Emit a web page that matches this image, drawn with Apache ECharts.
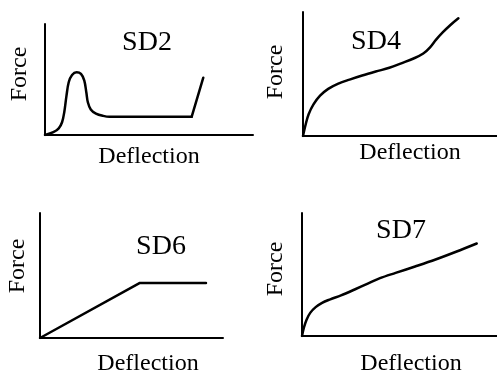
<!DOCTYPE html>
<html>
<head>
<meta charset="utf-8">
<script src="https://cdn.jsdelivr.net/npm/echarts@6/dist/echarts.min.js"></script>
<style>
  html, body { margin: 0; padding: 0; background: #fff; }
  #chart { width: 497px; height: 377px; }
</style>
</head>
<body>
<div id="chart"></div>
<script>
// Force–deflection characteristics of four shock-damper types (normalised units, 0–100)
const panelTitles = ['SD2', 'SD4', 'SD6', 'SD7'];
const xAxisName = 'Deflection';
const yAxisName = 'Force';

// [deflection, force]
const sd2 = [
  [0, 0], [4.0, 2.5], [6.6, 6.0], [8.2, 11.5], [9.3, 21.0], [10.3, 35.0],
  [11.4, 47.5], [13.0, 54.0], [15.2, 56.5], [17.3, 55.0], [18.9, 49.0],
  [19.9, 38.0], [20.6, 29.5], [22.0, 23.0], [24.5, 19.3], [28.0, 17.2],
  [31.0, 16.4], [70.5, 16.4], [76.1, 51.6]
];
const sd2Curve = sd2.slice(0, 18);   // smooth hump up to the end of the plateau
const sd2Ramp = sd2.slice(17);       // straight final ramp

const sd4 = [
  [0, 0], [1.4, 9.5], [2.9, 17.5], [5.4, 25.5], [8.8, 32.5], [13.0, 38.0],
  [18.2, 42.2], [24.0, 45.5], [30.5, 48.8], [37.5, 52.0], [44.5, 55.0],
  [51.0, 58.8], [57.0, 62.5], [62.0, 66.5], [65.5, 71.5], [68.5, 77.5],
  [72.0, 83.5], [76.0, 89.5], [80.1, 94.9]
];
const sd6 = [
  [0, 0], [54.6, 44.1], [90.7, 44.1]
];
const sd7 = [
  [0, 0], [1.0, 7.0], [2.4, 13.5], [4.3, 19.0], [7.0, 23.5], [10.3, 27.0],
  [14.5, 29.8], [20.0, 33.0], [27.0, 37.8], [34.0, 42.8], [40.0, 47.0],
  [48.0, 51.3], [58.0, 56.5], [68.5, 62.2], [79.0, 68.5], [89.6, 75.2]
];

const serif = "'Liberation Serif', 'Times New Roman', Times, serif";

// grid boxes and label placement for each panel
const panels = [
  { grid: { left: 45, top: 24, width: 208, height: 111 },
    title: [147, 43], xGap: 10, xPad: 0, yGap: 13, yPad: 11 },
  { grid: { left: 303, top: 12, width: 194, height: 124 },
    title: [376, 42], xGap: 5, xPad: 20, yGap: 15, yPad: 4 },
  { grid: { left: 40, top: 213, width: 183, height: 127 },
    title: [161, 247], xGap: 14, xPad: 33, yGap: 10, yPad: 19 },
  { grid: { left: 302, top: 213, width: 195, height: 125 },
    title: [401, 231], xGap: 16, xPad: 23, yGap: 14, yPad: 11 }
];

const curves = [
  { panel: 0, data: sd2Curve, smooth: 0.35 },
  { panel: 0, data: sd2Ramp, smooth: false },
  { panel: 1, data: sd4, smooth: 0.35 },
  { panel: 2, data: sd6, smooth: false },
  { panel: 3, data: sd7, smooth: 0.35 }
];

const axisBase = {
  type: 'value', min: 0, max: 100,
  axisLine: { show: true, lineStyle: { color: '#000', width: 2 } },
  axisTick: { show: false },
  axisLabel: { show: false },
  splitLine: { show: false }
};

const option = {
  backgroundColor: '#fff',
  animation: false,
  title: panels.map((p, i) => ({
    text: panelTitles[i],
    left: p.title[0], top: p.title[1],
    textAlign: 'center', textVerticalAlign: 'middle', padding: 0,
    textStyle: { fontFamily: serif, fontSize: 28, fontWeight: 'normal', color: '#000' }
  })),
  grid: panels.map(p => Object.assign({ containLabel: false }, p.grid)),
  xAxis: panels.map((p, i) => Object.assign({}, axisBase, {
    gridIndex: i,
    name: xAxisName, nameLocation: 'middle', nameGap: p.xGap,
    nameTextStyle: { fontFamily: serif, fontSize: 24, color: '#000', padding: [0, 0, 0, p.xPad] }
  })),
  yAxis: panels.map((p, i) => Object.assign({}, axisBase, {
    gridIndex: i,
    name: yAxisName, nameLocation: 'middle', nameRotate: 90, nameGap: p.yGap,
    nameTextStyle: { fontFamily: serif, fontSize: 24, color: '#000', padding: [0, 0, 0, p.yPad] }
  })),
  series: curves.map(c => ({
    type: 'line',
    xAxisIndex: c.panel, yAxisIndex: c.panel,
    data: c.data,
    smooth: c.smooth,
    showSymbol: false,
    lineStyle: { color: '#000', width: 2.5, cap: 'round', join: 'round' }
  }))
};

const chart = echarts.init(document.getElementById('chart'), null, { renderer: 'canvas' });
chart.setOption(option);
</script>
</body>
</html>
